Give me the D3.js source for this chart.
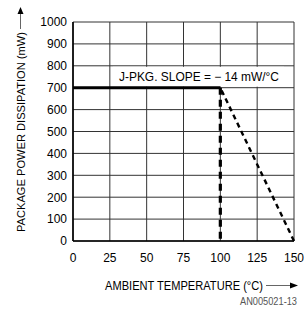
<!DOCTYPE html>
<html><head><meta charset="utf-8">
<script src="https://cdn.jsdelivr.net/npm/d3@7"></script>
<style>html,body{margin:0;padding:0;background:#fff;}svg{display:block;}</style>
</head><body>
<script>
// Data
const xTicks = [0, 25, 50, 75, 100, 125, 150];
const yTicks = [0, 100, 200, 300, 400, 500, 600, 700, 800, 900, 1000];
const flatTemp = [0, 100];
const flatPower = [700, 700];
const cutoffTemp = [100, 100];
const cutoffPower = [700, 0];
const derateTemp = [100, 150];
const deratePower = [700, 0];
const slopeLabel = "J-PKG. SLOPE = \u2212 14 mW/\u00B0C";
const xTitle = "AMBIENT TEMPERATURE (\u00B0C)";
const yTitle = "PACKAGE POWER DISSIPATION (mW)";
const figId = "AN005021-13";

const W = 307, H = 312;
const m = {l: 73, t: 22, r: 13, b: 71};
const pw = W - m.l - m.r, ph = H - m.t - m.b;
const font = "'Liberation Sans', Arial, sans-serif";

const svg = d3.select("body").append("svg").attr("width", W).attr("height", H);
const x = d3.scaleLinear().domain([0, 150]).range([m.l, m.l + pw]);
const y = d3.scaleLinear().domain([0, 1000]).range([m.t + ph, m.t]);

// grid
const g = svg.append("g");
g.selectAll(".vg").data(xTicks).join("line")
  .attr("x1", d => x(d)).attr("x2", d => x(d)).attr("y1", y(0)).attr("y2", y(1000))
  .attr("stroke", "#333").attr("stroke-width", 1);
g.selectAll(".hg").data(yTicks).join("line")
  .attr("x1", x(0)).attr("x2", x(150)).attr("y1", d => y(d)).attr("y2", d => y(d))
  .attr("stroke", "#333").attr("stroke-width", 1);
// axis lines
g.append("line").attr("x1", x(0)).attr("x2", x(0)).attr("y1", y(0)).attr("y2", y(1000)).attr("stroke", "#000").attr("stroke-width", 1.6);
g.append("line").attr("x1", x(0)).attr("x2", x(150)).attr("y1", y(0)).attr("y2", y(0)).attr("stroke", "#000").attr("stroke-width", 1.6);

// tick labels
svg.append("g").selectAll("text").data(yTicks).join("text")
  .attr("x", x(0) - 6).attr("y", d => y(d)).attr("dy", "0.36em")
  .attr("text-anchor", "end").attr("font-family", font).attr("font-size", 12)
  .attr("fill", "#000").text(d => d);
svg.append("g").selectAll("text").data(xTicks).join("text")
  .attr("x", d => x(d)).attr("y", y(0) + 21)
  .attr("text-anchor", "middle").attr("font-family", font).attr("font-size", 12)
  .attr("fill", "#000").text(d => d);

// slope label with white background
svg.append("rect").attr("x", 113).attr("y", y(800) + 1).attr("width", 171).attr("height", y(700) - y(800) - 2).attr("fill", "#fff");
svg.append("text").attr("x", 119).attr("y", 81).attr("font-family", font).attr("font-size", 12)
  .attr("textLength", 160).attr("lengthAdjust", "spacingAndGlyphs").text(slopeLabel);

const line = d3.line().x(d => x(d[0])).y(d => y(d[1]));
const zip = (a, b) => a.map((v, i) => [v, b[i]]);
svg.append("path").attr("d", line(zip(flatTemp, flatPower))).attr("fill", "none")
  .attr("stroke", "#000").attr("stroke-width", 3);
svg.append("path").attr("d", line(zip(cutoffTemp, cutoffPower))).attr("fill", "none")
  .attr("stroke", "#000").attr("stroke-width", 3.2).attr("stroke-dasharray", "7,5");
svg.append("path").attr("d", line(zip(derateTemp, deratePower))).attr("fill", "none")
  .attr("stroke", "#000").attr("stroke-width", 2.4).attr("stroke-dasharray", "5,4")
  .attr("stroke-dashoffset", -3);

// y title
const ytx = 21, yty = 132;
svg.append("text").attr("transform", `translate(${ytx + 4},${yty}) rotate(-90)`)
  .attr("text-anchor", "middle").attr("font-family", font).attr("font-size", 11)
  .attr("textLength", 200).attr("lengthAdjust", "spacingAndGlyphs").text(yTitle);
svg.append("line").attr("x1", 20.5).attr("x2", 20.5).attr("y1", 29).attr("y2", 12).attr("stroke", "#666").attr("stroke-width", 1);
svg.append("path").attr("d", "M20.5,7 L17.5,14 L23.5,14 Z").attr("fill", "#000");

// x title
svg.append("text").attr("x", 105).attr("y", 290).attr("font-family", font).attr("font-size", 12)
  .attr("textLength", 158).attr("lengthAdjust", "spacingAndGlyphs").text(xTitle);
svg.append("line").attr("x1", 266).attr("x2", 292).attr("y1", 285.5).attr("y2", 285.5).attr("stroke", "#666").attr("stroke-width", 1);
svg.append("path").attr("d", "M298,285.5 L290,282.5 L290,288.5 Z").attr("fill", "#000");

// figure id
svg.append("text").attr("x", 297).attr("y", 305).attr("text-anchor", "end").attr("font-family", font)
  .attr("font-size", 10).attr("fill", "#555").attr("textLength", 57).attr("lengthAdjust", "spacingAndGlyphs").text(figId);
</script>
</body></html>
